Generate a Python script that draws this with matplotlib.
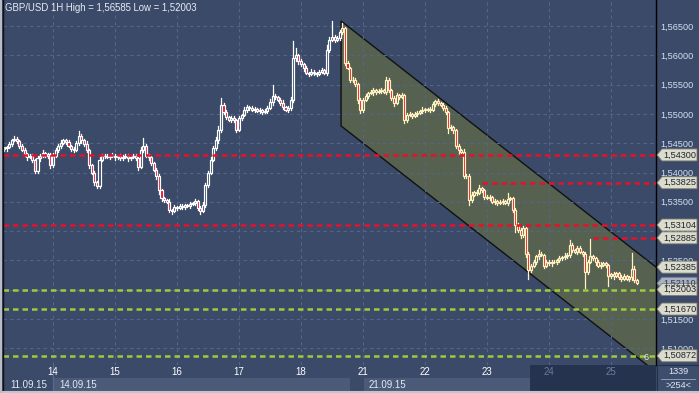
import matplotlib.pyplot as plt
import matplotlib.patches as patches
from matplotlib.ticker import FuncFormatter

plt.rcParams['font.family'] = ['Liberation Sans', 'DejaVu Sans']

# hourly closes, GBP/USD 11.09.15 - 25.09.15
closes = [
    1.5441, 1.5443, 1.5448, 1.5455, 1.5458, 1.5453, 1.5446, 1.5438, 1.5431, 1.5426,
    1.5429, 1.5421, 1.5402, 1.5424, 1.5429, 1.5433, 1.5428, 1.5431, 1.5412, 1.5429,
    1.5438, 1.5445, 1.5450, 1.5455, 1.5452, 1.5445, 1.5440, 1.5438, 1.5450, 1.5462,
    1.5455, 1.5448, 1.5438, 1.5412, 1.5400, 1.5383, 1.5377, 1.5421, 1.5428, 1.5429,
    1.5426, 1.5428, 1.5429, 1.5426, 1.5428, 1.5424, 1.5426, 1.5429, 1.5424, 1.5426,
    1.5428, 1.5424, 1.5409, 1.5438, 1.5445, 1.5429, 1.5426, 1.5416, 1.5404, 1.5394,
    1.5370, 1.5356, 1.5353, 1.5350, 1.5336, 1.5334, 1.5341, 1.5339, 1.5343, 1.5341,
    1.5344, 1.5343, 1.5346, 1.5348, 1.5351, 1.5339, 1.5334, 1.5344, 1.5378, 1.5400,
    1.5421, 1.5441, 1.5455, 1.5472, 1.5515, 1.5503, 1.5495, 1.5490, 1.5493, 1.5490,
    1.5472, 1.5493, 1.5498, 1.5507, 1.5512, 1.5510, 1.5507, 1.5508, 1.5505, 1.5507,
    1.5503, 1.5505, 1.5510, 1.5520, 1.5531, 1.5529, 1.5524, 1.5519, 1.5512, 1.5507,
    1.5510, 1.5524, 1.5595, 1.5600, 1.5590, 1.5585, 1.5578, 1.5570, 1.5568, 1.5572,
    1.5570, 1.5568, 1.5572, 1.5575, 1.5570, 1.5609, 1.5626, 1.5631, 1.5626, 1.5629,
    1.5640, 1.5646, 1.5587, 1.5578, 1.5558, 1.5558, 1.5551, 1.5524, 1.5507, 1.5524,
    1.5531, 1.5536, 1.5537, 1.5541, 1.5537, 1.5539, 1.5541, 1.5537, 1.5558, 1.5541,
    1.5527, 1.5519, 1.5532, 1.5529, 1.5532, 1.5490, 1.5498, 1.5500, 1.5496, 1.5500,
    1.5502, 1.5505, 1.5507, 1.5507, 1.5508, 1.5507, 1.5517, 1.5522, 1.5519, 1.5515,
    1.5510, 1.5503, 1.5476, 1.5478, 1.5472, 1.5445, 1.5438, 1.5435, 1.5394, 1.5394,
    1.5353, 1.5362, 1.5367, 1.5365, 1.5373, 1.5370, 1.5358, 1.5356, 1.5358, 1.5350,
    1.5351, 1.5348, 1.5350, 1.5351, 1.5348, 1.5355, 1.5356, 1.5336, 1.5310, 1.5302,
    1.5293, 1.5305, 1.5261, 1.5233, 1.5240, 1.5247, 1.5257, 1.5261, 1.5259, 1.5240,
    1.5247, 1.5245, 1.5248, 1.5247, 1.5250, 1.5254, 1.5255, 1.5257, 1.5259, 1.5276,
    1.5268, 1.5264, 1.5271, 1.5264, 1.5261, 1.5230, 1.5247, 1.5257, 1.5254, 1.5247,
    1.5240, 1.5243, 1.5245, 1.5242, 1.5223, 1.5226, 1.5223, 1.5228, 1.5221, 1.5219,
    1.5223, 1.5218, 1.5221, 1.5236, 1.5216, 1.5211,
]
first_open = 1.5440

# wick lengths beyond the body, in pips
wick_hi = [
    3, 2, 4, 3, 5, 2, 3, 2, 4, 3, 2, 3, 2, 4, 3, 5, 2, 3, 2, 4,
    3, 4, 5, 3, 2, 3, 2, 3, 4, 9, 3, 2, 5, 2, 3, 2, 3, 6, 4, 2,
    3, 2, 4, 3, 2, 3, 4, 2, 3, 2, 3, 4, 2, 5, 14, 3, 2, 3, 2, 4,
    3, 2, 3, 2, 4, 2, 3, 2, 4, 3, 2, 3, 4, 2, 3, 2, 3, 5, 4, 3,
    5, 4, 6, 8, 12, 3, 4, 2, 3, 4, 2, 3, 2, 4, 3, 2, 3, 4, 2, 3,
    2, 3, 4, 5, 19, 3, 2, 3, 4, 2, 3, 5, 30, 12, 3, 4, 2, 3, 2, 4,
    3, 2, 3, 4, 2, 8, 5, 27, 3, 4, 3, 10, 2, 3, 2, 4, 3, 2, 3, 4,
    3, 2, 4, 3, 2, 3, 4, 2, 5, 3, 2, 3, 4, 2, 3, 2, 4, 3, 2, 3,
    3, 2, 4, 3, 2, 3, 4, 2, 3, 2, 3, 4, 2, 3, 2, 3, 4, 2, 5, 3,
    3, 4, 2, 3, 6, 3, 2, 3, 4, 2, 3, 2, 3, 4, 2, 10, 3, 2, 4, 3,
    3, 4, 2, 3, 4, 3, 2, 6, 3, 2, 3, 4, 2, 3, 2, 4, 3, 5, 4, 8,
    3, 2, 4, 3, 2, 3, 4, 29, 3, 2, 3, 4, 2, 3, 2, 3, 4, 2, 3, 4,
    3, 2, 3, 26, 4, 3,
]
wick_lo = [
    3, 4, 2, 3, 2, 3, 4, 2, 3, 5, 2, 3, 3, 2, 4, 3, 2, 3, 4, 3,
    2, 3, 4, 2, 3, 2, 4, 3, 2, 3, 4, 2, 3, 4, 3, 5, 4, 3, 2, 3,
    2, 3, 2, 4, 3, 2, 3, 2, 4, 3, 2, 3, 4, 2, 3, 2, 4, 3, 2, 5,
    6, 4, 3, 2, 3, 4, 2, 3, 2, 3, 4, 2, 3, 2, 4, 3, 4, 2, 3, 2,
    3, 2, 3, 4, 3, 4, 3, 2, 4, 3, 3, 2, 3, 2, 3, 4, 2, 3, 2, 4,
    3, 2, 3, 2, 4, 3, 2, 3, 4, 2, 3, 4, 3, 4, 5, 3, 4, 2, 3, 2,
    3, 4, 2, 3, 2, 3, 4, 2, 3, 2, 3, 4, 3, 2, 4, 3, 3, 5, 5, 3,
    2, 3, 2, 4, 3, 2, 3, 2, 3, 4, 3, 5, 2, 3, 2, 6, 3, 2, 3, 2,
    3, 2, 4, 3, 2, 3, 2, 3, 4, 2, 3, 4, 9, 3, 4, 3, 6, 2, 3, 4,
    8, 3, 2, 3, 2, 3, 4, 2, 3, 2, 4, 3, 2, 3, 2, 3, 2, 4, 12, 4,
    5, 3, 6, 14, 3, 2, 3, 4, 2, 3, 2, 3, 4, 2, 3, 2, 3, 2, 3, 4,
    3, 2, 3, 2, 4, 27, 3, 2, 3, 4, 2, 3, 2, 3, 17, 3, 4, 2, 3, 4,
    3, 2, 3, 4, 3, 2,
]

day_labels = ['14', '15', '16', '17', '18', '21', '22', '23', '24', '25']
day_start = [19, 43, 67, 91, 115, 139, 163, 187, 211, 235]
date_labels = ['11.09.15', '14.09.15', '21.09.15']
date_start = [0, 19, 139]

price_ticks = [1.565, 1.560, 1.555, 1.550, 1.545, 1.540, 1.535, 1.530, 1.525, 1.520, 1.515, 1.510]

red_levels = [1.54300, 1.53825, 1.53104, 1.52885]
red_from = [0, 185, 0, 228]
green_levels = [1.52003, 1.51670, 1.50872]

chan_start = 130.5
chan_top = 1.56585
chan_slope = -0.0003445
chan_width = 0.0179

tag_levels = [1.54300, 1.53825, 1.53104, 1.52885, 1.52385, 1.52003, 1.51670, 1.50872]
last_price = 1.52110
high_val = 1.56585
low_val = 1.52003

# ---- style ----
BG = '#3a4a68'
GRID = '#53658a'
CHAN = '#566150'
RED = '#e8102a'
W, H = 699, 393
YTOP, YBOT = 1.56944, 1.50715
XL, XR = -0.36, 252.4


def fr(x0, y0, x1, y1):
    return [x0 / W, 1 - y1 / H, (x1 - x0) / W, (y1 - y0) / H]


def ypx(p):
    return 365 * (YTOP - p) / (YTOP - YBOT)


fig = plt.figure(figsize=(W / 100, H / 100), dpi=100, facecolor=BG)
ax = fig.add_axes(fr(3, 0, 656, 365))
ax.set_facecolor(BG)
ax.set_xlim(XL, XR)
ax.set_ylim(YBOT, YTOP)

# grid
for p in price_ticks:
    ax.axhline(p, color=GRID, lw=0.8, ls=(0, (3, 3)), zorder=1)
for d in day_start:
    ax.axvline(d, color=GRID, lw=0.8, ls=(0, (3, 3)), zorder=1)

# channel
xr = 262
chan = patches.Polygon([(chan_start, chan_top),
                        (xr, chan_top + chan_slope * (xr - chan_start)),
                        (xr, chan_top + chan_slope * (xr - chan_start) - chan_width),
                        (chan_start, chan_top - chan_width)],
                       closed=True, facecolor=CHAN, edgecolor='#111111', lw=1, zorder=0.5)
ax.add_patch(chan)

# candles
bw = 0.8
prev = first_open
for i, c in enumerate(closes):
    o = prev
    prev = c
    lo_b, hi_b = min(o, c), max(o, c)
    if hi_b - lo_b < 0.00006:
        hi_b = lo_b + 0.00006
    edge = '#fff3c2' if i >= chan_start else '#ffffff'
    fill = RED if c < o else 'none'
    ax.plot([i, i], [hi_b, hi_b + wick_hi[i] * 1e-4], color=edge, lw=0.9, zorder=3)
    ax.plot([i, i], [lo_b - wick_lo[i] * 1e-4, lo_b], color=edge, lw=0.9, zorder=3)
    ax.add_patch(patches.Rectangle((i - bw / 2, lo_b), bw, hi_b - lo_b,
                                   facecolor=fill, edgecolor=edge, lw=0.85, zorder=3))

# levels
for p, s in zip(red_levels, red_from):
    ax.plot([s if s > 0 else XL, XR], [p, p], color=RED, lw=1.8, ls=(0, (2.2, 1.6)), zorder=4)
for p in green_levels:
    ax.plot([XL, XR], [p, p], color='#9ccc3c', lw=1.8, ls=(0, (2.2, 1.6)), zorder=4)

# axes cosmetics
for s in ['top', 'left', 'bottom']:
    ax.spines[s].set_visible(False)
ax.spines['right'].set_color('#000000')
ax.spines['right'].set_linewidth(1)
ax.yaxis.tick_right()
ax.set_yticks(price_ticks)
ax.yaxis.set_major_formatter(FuncFormatter(lambda v, _: f'{v:.5f}'.replace('.', ',')))
ax.tick_params(axis='y', length=0, pad=3, labelsize=6.6, labelcolor='#d4e0f0')
ax.set_xticks(day_start)
ax.set_xticklabels(day_labels)
ax.tick_params(axis='x', length=0, pad=1.5, labelsize=7, labelcolor='#ffffff')
for lab in ax.get_xticklabels()[-2:]:
    lab.set_color('#6c7c9c')

# bottom strip: lighter week blocks in the date row
for x0, x1 in [(54, 350), (364, 530)]:
    fig.patches.append(patches.Rectangle((x0 / W, 0), (x1 - x0) / W, 15 / H, transform=fig.transFigure,
                                         facecolor='#4a5a78', edgecolor='none', zorder=-1))
fig.patches.append(patches.Rectangle((530 / W, 0), 126 / W, 28 / H, transform=fig.transFigure,
                                     facecolor='#26334f', edgecolor='none', zorder=-1))
fig.add_artist(plt.Line2D([53 / W, 53 / W], [0, 28 / H], color='#56688c', lw=1, zorder=-0.5))
fig.patches.append(patches.Rectangle((657 / W, 0), 42 / W, 28 / H, transform=fig.transFigure,
                                     facecolor='#3d4d6c', edgecolor='#22304a', lw=0.8, zorder=1))
fig.add_artist(plt.Line2D([661 / W, 695 / W], [14 / H, 14 / H], color='#9aa8c0', lw=0.6))
fig.text(678 / W, 1 - 371 / H, '1339', fontsize=6.6, color='#e0e8f4', ha='center', va='center')
fig.text(678 / W, 1 - 385 / H, '>254<', fontsize=6.6, color='#e0e8f4', ha='center', va='center')

for lab, d in zip(date_labels, date_start):
    x = 53 + (d - 19) * (62 / 24)
    fig.text((x + 6) / W, 1 - 385 / H, lab, fontsize=7, color='#e4eaf4', ha='left', va='center')

# borders
fig.patches.append(patches.Rectangle((0, 0), 2 / W, 1, transform=fig.transFigure,
                                     facecolor='#b8bcc6', edgecolor='none', zorder=2))
fig.add_artist(plt.Line2D([2.5 / W, 2.5 / W], [0, 1], color='#111111', lw=1))
fig.add_artist(plt.Line2D([0, 1], [1.5 / H, 1.5 / H], color='#c0c4cc', lw=1.5))


# price tags
def tag(p, fc, ec, tc):
    y = ypx(p)
    pts = [(657, y), (662, y - 6), (697, y - 6), (697, y + 6), (662, y + 6)]
    fig.patches.append(patches.Polygon([(px / W, 1 - py / H) for px, py in pts], closed=True,
                                       transform=fig.transFigure, facecolor=fc, edgecolor=ec,
                                       lw=0.6, zorder=1))
    fig.text(663 / W, 1 - y / H, f'{p:.5f}'.replace('.', ','), fontsize=6.6, color=tc,
             ha='left', va='center', zorder=3)


tag(last_price, '#a9b2c4', '#6a7488', '#303848')
for p in tag_levels:
    tag(p, '#dcdccc', '#7a7a70', '#1e2430')

fig.text(646 / W, 1 - 358 / H, '6', fontsize=6.5, color='#e8ecf0', ha='center', va='center')
fig.text(5 / W, 1 - 8 / H,
         f'GBP/USD 1H High = {high_val:.5f} Low = {low_val:.5f}'.replace('.', ','),
         fontsize=6.9, color='#e8ecf4', ha='left', va='center')

fig.savefig('out.png', dpi=100, facecolor=BG)
